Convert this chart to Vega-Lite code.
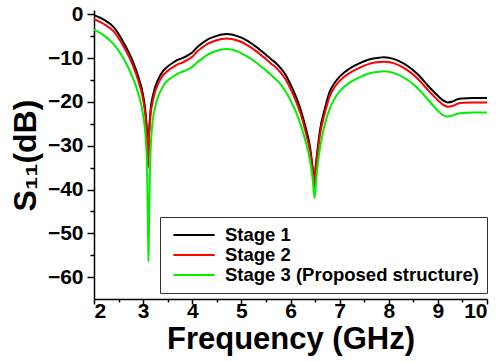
{
  "$schema": "https://vega.github.io/schema/vega-lite/v6.json",
  "width": 393,
  "height": 289,
  "autosize": {"type": "none"},
  "padding": {"left": 94, "top": 10, "right": 12, "bottom": 63},
  "background": "white",
  "config": {
    "view": {"stroke": null},
    "font": "Liberation Sans",
    "axis": {
      "domainColor": "black",
      "domainWidth": 1.5,
      "tickColor": "black",
      "tickWidth": 1.5,
      "grid": false,
      "labelFont": "Liberation Sans",
      "labelFontWeight": "bold",
      "labelFontSize": 21,
      "labelColor": "black",
      "titleFont": "Liberation Sans",
      "titleFontWeight": "bold",
      "titleColor": "black"
    }
  },
  "datasets": {
    "s11": [
      {"f": 2.0, "s": -0.2, "stage": "Stage 1"},
      {"f": 2.2, "s": -1.2, "stage": "Stage 1"},
      {"f": 2.4, "s": -2.9, "stage": "Stage 1"},
      {"f": 2.6, "s": -6.4, "stage": "Stage 1"},
      {"f": 2.8, "s": -11.0, "stage": "Stage 1"},
      {"f": 2.9, "s": -14.2, "stage": "Stage 1"},
      {"f": 3.0, "s": -18.5, "stage": "Stage 1"},
      {"f": 3.05, "s": -22.5, "stage": "Stage 1"},
      {"f": 3.08, "s": -27, "stage": "Stage 1"},
      {"f": 3.1, "s": -33, "stage": "Stage 1"},
      {"f": 3.12, "s": -27, "stage": "Stage 1"},
      {"f": 3.15, "s": -22, "stage": "Stage 1"},
      {"f": 3.2, "s": -18.5, "stage": "Stage 1"},
      {"f": 3.3, "s": -15, "stage": "Stage 1"},
      {"f": 3.4, "s": -13, "stage": "Stage 1"},
      {"f": 3.5, "s": -11.9, "stage": "Stage 1"},
      {"f": 3.6, "s": -11.1, "stage": "Stage 1"},
      {"f": 3.7, "s": -10.4, "stage": "Stage 1"},
      {"f": 3.8, "s": -10.0, "stage": "Stage 1"},
      {"f": 3.9, "s": -9.4, "stage": "Stage 1"},
      {"f": 4.0, "s": -8.7, "stage": "Stage 1"},
      {"f": 4.1, "s": -7.5, "stage": "Stage 1"},
      {"f": 4.2, "s": -6.6, "stage": "Stage 1"},
      {"f": 4.3, "s": -5.8, "stage": "Stage 1"},
      {"f": 4.4, "s": -5.3, "stage": "Stage 1"},
      {"f": 4.5, "s": -4.9, "stage": "Stage 1"},
      {"f": 4.6, "s": -4.6, "stage": "Stage 1"},
      {"f": 4.7, "s": -4.5, "stage": "Stage 1"},
      {"f": 4.8, "s": -4.6, "stage": "Stage 1"},
      {"f": 4.9, "s": -4.9, "stage": "Stage 1"},
      {"f": 5.0, "s": -5.3, "stage": "Stage 1"},
      {"f": 5.1, "s": -5.9, "stage": "Stage 1"},
      {"f": 5.2, "s": -6.6, "stage": "Stage 1"},
      {"f": 5.3, "s": -7.4, "stage": "Stage 1"},
      {"f": 5.4, "s": -8.3, "stage": "Stage 1"},
      {"f": 5.5, "s": -9.2, "stage": "Stage 1"},
      {"f": 5.6, "s": -10.2, "stage": "Stage 1"},
      {"f": 5.7, "s": -11.1, "stage": "Stage 1"},
      {"f": 5.8, "s": -12.3, "stage": "Stage 1"},
      {"f": 5.9, "s": -13.8, "stage": "Stage 1"},
      {"f": 6.0, "s": -16.0, "stage": "Stage 1"},
      {"f": 6.1, "s": -18.5, "stage": "Stage 1"},
      {"f": 6.2, "s": -21.5, "stage": "Stage 1"},
      {"f": 6.3, "s": -25.5, "stage": "Stage 1"},
      {"f": 6.4, "s": -30.5, "stage": "Stage 1"},
      {"f": 6.45, "s": -35, "stage": "Stage 1"},
      {"f": 6.48, "s": -39, "stage": "Stage 1"},
      {"f": 6.51, "s": -35, "stage": "Stage 1"},
      {"f": 6.56, "s": -30, "stage": "Stage 1"},
      {"f": 6.6, "s": -26.5, "stage": "Stage 1"},
      {"f": 6.7, "s": -21.5, "stage": "Stage 1"},
      {"f": 6.8, "s": -17.6, "stage": "Stage 1"},
      {"f": 6.9, "s": -15.6, "stage": "Stage 1"},
      {"f": 7.0, "s": -14.2, "stage": "Stage 1"},
      {"f": 7.2, "s": -12.4, "stage": "Stage 1"},
      {"f": 7.4, "s": -11.2, "stage": "Stage 1"},
      {"f": 7.6, "s": -10.3, "stage": "Stage 1"},
      {"f": 7.8, "s": -9.9, "stage": "Stage 1"},
      {"f": 7.9, "s": -9.8, "stage": "Stage 1"},
      {"f": 8.0, "s": -9.9, "stage": "Stage 1"},
      {"f": 8.2, "s": -10.6, "stage": "Stage 1"},
      {"f": 8.4, "s": -11.9, "stage": "Stage 1"},
      {"f": 8.6, "s": -13.8, "stage": "Stage 1"},
      {"f": 8.8, "s": -16.3, "stage": "Stage 1"},
      {"f": 9.0, "s": -18.6, "stage": "Stage 1"},
      {"f": 9.1, "s": -19.6, "stage": "Stage 1"},
      {"f": 9.2, "s": -20.1, "stage": "Stage 1"},
      {"f": 9.3, "s": -19.9, "stage": "Stage 1"},
      {"f": 9.4, "s": -19.4, "stage": "Stage 1"},
      {"f": 9.5, "s": -19.2, "stage": "Stage 1"},
      {"f": 9.7, "s": -19.1, "stage": "Stage 1"},
      {"f": 10.0, "s": -19.1, "stage": "Stage 1"},

      {"f": 2.0, "s": -1.1, "stage": "Stage 2"},
      {"f": 2.2, "s": -2.2, "stage": "Stage 2"},
      {"f": 2.4, "s": -3.9, "stage": "Stage 2"},
      {"f": 2.6, "s": -7.3, "stage": "Stage 2"},
      {"f": 2.8, "s": -11.9, "stage": "Stage 2"},
      {"f": 2.9, "s": -15.1, "stage": "Stage 2"},
      {"f": 3.0, "s": -19.5, "stage": "Stage 2"},
      {"f": 3.05, "s": -23.5, "stage": "Stage 2"},
      {"f": 3.08, "s": -28.5, "stage": "Stage 2"},
      {"f": 3.1, "s": -35, "stage": "Stage 2"},
      {"f": 3.12, "s": -28.5, "stage": "Stage 2"},
      {"f": 3.15, "s": -23.2, "stage": "Stage 2"},
      {"f": 3.2, "s": -19.6, "stage": "Stage 2"},
      {"f": 3.3, "s": -16.0, "stage": "Stage 2"},
      {"f": 3.4, "s": -14.0, "stage": "Stage 2"},
      {"f": 3.5, "s": -12.9, "stage": "Stage 2"},
      {"f": 3.6, "s": -12.1, "stage": "Stage 2"},
      {"f": 3.7, "s": -11.4, "stage": "Stage 2"},
      {"f": 3.8, "s": -11.0, "stage": "Stage 2"},
      {"f": 3.9, "s": -10.4, "stage": "Stage 2"},
      {"f": 4.0, "s": -9.7, "stage": "Stage 2"},
      {"f": 4.1, "s": -8.5, "stage": "Stage 2"},
      {"f": 4.2, "s": -7.6, "stage": "Stage 2"},
      {"f": 4.3, "s": -6.8, "stage": "Stage 2"},
      {"f": 4.4, "s": -6.3, "stage": "Stage 2"},
      {"f": 4.5, "s": -5.9, "stage": "Stage 2"},
      {"f": 4.6, "s": -5.6, "stage": "Stage 2"},
      {"f": 4.7, "s": -5.5, "stage": "Stage 2"},
      {"f": 4.8, "s": -5.6, "stage": "Stage 2"},
      {"f": 4.9, "s": -5.9, "stage": "Stage 2"},
      {"f": 5.0, "s": -6.3, "stage": "Stage 2"},
      {"f": 5.1, "s": -6.9, "stage": "Stage 2"},
      {"f": 5.2, "s": -7.6, "stage": "Stage 2"},
      {"f": 5.3, "s": -8.4, "stage": "Stage 2"},
      {"f": 5.4, "s": -9.3, "stage": "Stage 2"},
      {"f": 5.5, "s": -10.2, "stage": "Stage 2"},
      {"f": 5.6, "s": -11.2, "stage": "Stage 2"},
      {"f": 5.7, "s": -12.1, "stage": "Stage 2"},
      {"f": 5.8, "s": -13.3, "stage": "Stage 2"},
      {"f": 5.9, "s": -14.8, "stage": "Stage 2"},
      {"f": 6.0, "s": -17.0, "stage": "Stage 2"},
      {"f": 6.1, "s": -19.5, "stage": "Stage 2"},
      {"f": 6.2, "s": -22.5, "stage": "Stage 2"},
      {"f": 6.3, "s": -26.5, "stage": "Stage 2"},
      {"f": 6.4, "s": -31.5, "stage": "Stage 2"},
      {"f": 6.45, "s": -35.5, "stage": "Stage 2"},
      {"f": 6.48, "s": -39.5, "stage": "Stage 2"},
      {"f": 6.51, "s": -35.5, "stage": "Stage 2"},
      {"f": 6.56, "s": -31, "stage": "Stage 2"},
      {"f": 6.6, "s": -27.5, "stage": "Stage 2"},
      {"f": 6.7, "s": -22.5, "stage": "Stage 2"},
      {"f": 6.8, "s": -18.6, "stage": "Stage 2"},
      {"f": 6.9, "s": -16.6, "stage": "Stage 2"},
      {"f": 7.0, "s": -15.2, "stage": "Stage 2"},
      {"f": 7.2, "s": -13.4, "stage": "Stage 2"},
      {"f": 7.4, "s": -12.2, "stage": "Stage 2"},
      {"f": 7.6, "s": -11.3, "stage": "Stage 2"},
      {"f": 7.8, "s": -10.9, "stage": "Stage 2"},
      {"f": 7.9, "s": -10.8, "stage": "Stage 2"},
      {"f": 8.0, "s": -10.9, "stage": "Stage 2"},
      {"f": 8.2, "s": -11.6, "stage": "Stage 2"},
      {"f": 8.4, "s": -12.9, "stage": "Stage 2"},
      {"f": 8.6, "s": -14.8, "stage": "Stage 2"},
      {"f": 8.8, "s": -17.3, "stage": "Stage 2"},
      {"f": 9.0, "s": -19.6, "stage": "Stage 2"},
      {"f": 9.1, "s": -20.6, "stage": "Stage 2"},
      {"f": 9.2, "s": -21.1, "stage": "Stage 2"},
      {"f": 9.3, "s": -20.9, "stage": "Stage 2"},
      {"f": 9.4, "s": -20.4, "stage": "Stage 2"},
      {"f": 9.5, "s": -20.2, "stage": "Stage 2"},
      {"f": 9.7, "s": -20.1, "stage": "Stage 2"},
      {"f": 10.0, "s": -20.1, "stage": "Stage 2"},

      {"f": 2.0, "s": -3.5, "stage": "Stage 3 (Proposed structure)"},
      {"f": 2.2, "s": -4.8, "stage": "Stage 3 (Proposed structure)"},
      {"f": 2.4, "s": -6.8, "stage": "Stage 3 (Proposed structure)"},
      {"f": 2.6, "s": -10.0, "stage": "Stage 3 (Proposed structure)"},
      {"f": 2.8, "s": -14.8, "stage": "Stage 3 (Proposed structure)"},
      {"f": 2.9, "s": -18.0, "stage": "Stage 3 (Proposed structure)"},
      {"f": 3.0, "s": -23, "stage": "Stage 3 (Proposed structure)"},
      {"f": 3.05, "s": -28, "stage": "Stage 3 (Proposed structure)"},
      {"f": 3.08, "s": -35, "stage": "Stage 3 (Proposed structure)"},
      {"f": 3.1, "s": -50, "stage": "Stage 3 (Proposed structure)"},
      {"f": 3.11, "s": -56.5, "stage": "Stage 3 (Proposed structure)"},
      {"f": 3.12, "s": -48, "stage": "Stage 3 (Proposed structure)"},
      {"f": 3.14, "s": -35, "stage": "Stage 3 (Proposed structure)"},
      {"f": 3.18, "s": -26, "stage": "Stage 3 (Proposed structure)"},
      {"f": 3.25, "s": -21, "stage": "Stage 3 (Proposed structure)"},
      {"f": 3.3, "s": -19, "stage": "Stage 3 (Proposed structure)"},
      {"f": 3.4, "s": -16.5, "stage": "Stage 3 (Proposed structure)"},
      {"f": 3.5, "s": -15.1, "stage": "Stage 3 (Proposed structure)"},
      {"f": 3.6, "s": -14.3, "stage": "Stage 3 (Proposed structure)"},
      {"f": 3.7, "s": -13.6, "stage": "Stage 3 (Proposed structure)"},
      {"f": 3.8, "s": -13.1, "stage": "Stage 3 (Proposed structure)"},
      {"f": 3.9, "s": -12.6, "stage": "Stage 3 (Proposed structure)"},
      {"f": 4.0, "s": -12.0, "stage": "Stage 3 (Proposed structure)"},
      {"f": 4.1, "s": -11.0, "stage": "Stage 3 (Proposed structure)"},
      {"f": 4.2, "s": -10.1, "stage": "Stage 3 (Proposed structure)"},
      {"f": 4.3, "s": -9.3, "stage": "Stage 3 (Proposed structure)"},
      {"f": 4.4, "s": -8.7, "stage": "Stage 3 (Proposed structure)"},
      {"f": 4.5, "s": -8.3, "stage": "Stage 3 (Proposed structure)"},
      {"f": 4.6, "s": -8.0, "stage": "Stage 3 (Proposed structure)"},
      {"f": 4.7, "s": -7.9, "stage": "Stage 3 (Proposed structure)"},
      {"f": 4.8, "s": -8.0, "stage": "Stage 3 (Proposed structure)"},
      {"f": 4.9, "s": -8.4, "stage": "Stage 3 (Proposed structure)"},
      {"f": 5.0, "s": -8.9, "stage": "Stage 3 (Proposed structure)"},
      {"f": 5.1, "s": -9.5, "stage": "Stage 3 (Proposed structure)"},
      {"f": 5.2, "s": -10.2, "stage": "Stage 3 (Proposed structure)"},
      {"f": 5.3, "s": -11.0, "stage": "Stage 3 (Proposed structure)"},
      {"f": 5.4, "s": -11.9, "stage": "Stage 3 (Proposed structure)"},
      {"f": 5.5, "s": -12.8, "stage": "Stage 3 (Proposed structure)"},
      {"f": 5.6, "s": -13.8, "stage": "Stage 3 (Proposed structure)"},
      {"f": 5.7, "s": -14.8, "stage": "Stage 3 (Proposed structure)"},
      {"f": 5.8, "s": -16.0, "stage": "Stage 3 (Proposed structure)"},
      {"f": 5.9, "s": -17.6, "stage": "Stage 3 (Proposed structure)"},
      {"f": 6.0, "s": -19.6, "stage": "Stage 3 (Proposed structure)"},
      {"f": 6.1, "s": -22.0, "stage": "Stage 3 (Proposed structure)"},
      {"f": 6.2, "s": -25.0, "stage": "Stage 3 (Proposed structure)"},
      {"f": 6.3, "s": -28.7, "stage": "Stage 3 (Proposed structure)"},
      {"f": 6.4, "s": -33.5, "stage": "Stage 3 (Proposed structure)"},
      {"f": 6.45, "s": -37.5, "stage": "Stage 3 (Proposed structure)"},
      {"f": 6.49, "s": -42, "stage": "Stage 3 (Proposed structure)"},
      {"f": 6.53, "s": -37, "stage": "Stage 3 (Proposed structure)"},
      {"f": 6.58, "s": -32, "stage": "Stage 3 (Proposed structure)"},
      {"f": 6.65, "s": -27.5, "stage": "Stage 3 (Proposed structure)"},
      {"f": 6.7, "s": -25.0, "stage": "Stage 3 (Proposed structure)"},
      {"f": 6.8, "s": -21.5, "stage": "Stage 3 (Proposed structure)"},
      {"f": 6.9, "s": -19.2, "stage": "Stage 3 (Proposed structure)"},
      {"f": 7.0, "s": -17.6, "stage": "Stage 3 (Proposed structure)"},
      {"f": 7.2, "s": -15.6, "stage": "Stage 3 (Proposed structure)"},
      {"f": 7.4, "s": -14.4, "stage": "Stage 3 (Proposed structure)"},
      {"f": 7.6, "s": -13.5, "stage": "Stage 3 (Proposed structure)"},
      {"f": 7.8, "s": -13.1, "stage": "Stage 3 (Proposed structure)"},
      {"f": 7.9, "s": -13.0, "stage": "Stage 3 (Proposed structure)"},
      {"f": 8.0, "s": -13.1, "stage": "Stage 3 (Proposed structure)"},
      {"f": 8.2, "s": -13.8, "stage": "Stage 3 (Proposed structure)"},
      {"f": 8.4, "s": -15.1, "stage": "Stage 3 (Proposed structure)"},
      {"f": 8.6, "s": -17.0, "stage": "Stage 3 (Proposed structure)"},
      {"f": 8.8, "s": -19.5, "stage": "Stage 3 (Proposed structure)"},
      {"f": 9.0, "s": -22.0, "stage": "Stage 3 (Proposed structure)"},
      {"f": 9.1, "s": -23.0, "stage": "Stage 3 (Proposed structure)"},
      {"f": 9.2, "s": -23.3, "stage": "Stage 3 (Proposed structure)"},
      {"f": 9.3, "s": -23.1, "stage": "Stage 3 (Proposed structure)"},
      {"f": 9.4, "s": -22.7, "stage": "Stage 3 (Proposed structure)"},
      {"f": 9.5, "s": -22.5, "stage": "Stage 3 (Proposed structure)"},
      {"f": 9.7, "s": -22.4, "stage": "Stage 3 (Proposed structure)"},
      {"f": 10.0, "s": -22.4, "stage": "Stage 3 (Proposed structure)"}
    ]
  },
  "data": {"name": "s11"},
  "resolve": {"axis": {"x": "independent", "y": "independent"}},
  "layer": [
    {
      "mark": {"type": "line", "interpolate": "monotone", "strokeWidth": 2, "clip": true},
      "encoding": {
        "x": {
          "field": "f", "type": "quantitative",
          "scale": {"domain": [2, 10], "nice": false, "zero": false},
          "axis": {
            "orient": "bottom",
            "values": [2, 3, 4, 5, 6, 7, 8, 9, 10],
            "tickSize": 5,
            "labelPadding": -4,
            "title": "Frequency (GHz)",
            "titleFontSize": 31,
            "titlePadding": 3
          }
        },
        "y": {
          "field": "s", "type": "quantitative",
          "scale": {"domain": [-65, 1], "nice": false, "zero": false},
          "axis": {
            "orient": "left",
            "values": [0, -10, -20, -30, -40, -50, -60],
            "tickSize": 7,
            "labelPadding": 4,
            "title": "S₁₁(dB)",
            "titleFontSize": 32,
            "titleX": -52,
            "titleY": 145,
            "titleBaseline": "bottom"
          }
        },
        "color": {
          "field": "stage", "type": "nominal",
          "scale": {
            "domain": ["Stage 1", "Stage 2", "Stage 3 (Proposed structure)"],
            "range": ["#000000", "#ff0000", "#00ee00"]
          },
          "legend": {
            "title": null,
            "orient": "none",
            "legendX": 66,
            "legendY": 207,
            "symbolType": "stroke",
            "symbolSize": 1700,
            "symbolStrokeWidth": 2,
            "symbolOffset": 4,
            "clipHeight": 20,
            "labelFont": "Liberation Sans",
            "labelFontWeight": "bold",
            "labelFontSize": 18.5,
            "labelColor": "black",
            "labelOffset": 9,
            "labelLimit": 400,
            "rowPadding": 0,
            "padding": 8,
            "strokeColor": "#333333",
            "fillColor": "white"
          }
        }
      }
    },
    {
      "mark": {"type": "line", "opacity": 0},
      "encoding": {
        "x": {
          "field": "f", "type": "quantitative",
          "axis": {
            "orient": "bottom",
            "values": [2.5, 3.5, 4.5, 5.5, 6.5, 7.5, 8.5, 9.5],
            "tickSize": 3,
            "labels": false,
            "domain": false,
            "title": null
          }
        },
        "y": {
          "field": "s", "type": "quantitative",
          "axis": {
            "orient": "left",
            "values": [-5, -15, -25, -35, -45, -55],
            "tickSize": 4,
            "labels": false,
            "domain": false,
            "title": null
          }
        },
        "detail": {"field": "stage"}
      }
    }
  ]
}
